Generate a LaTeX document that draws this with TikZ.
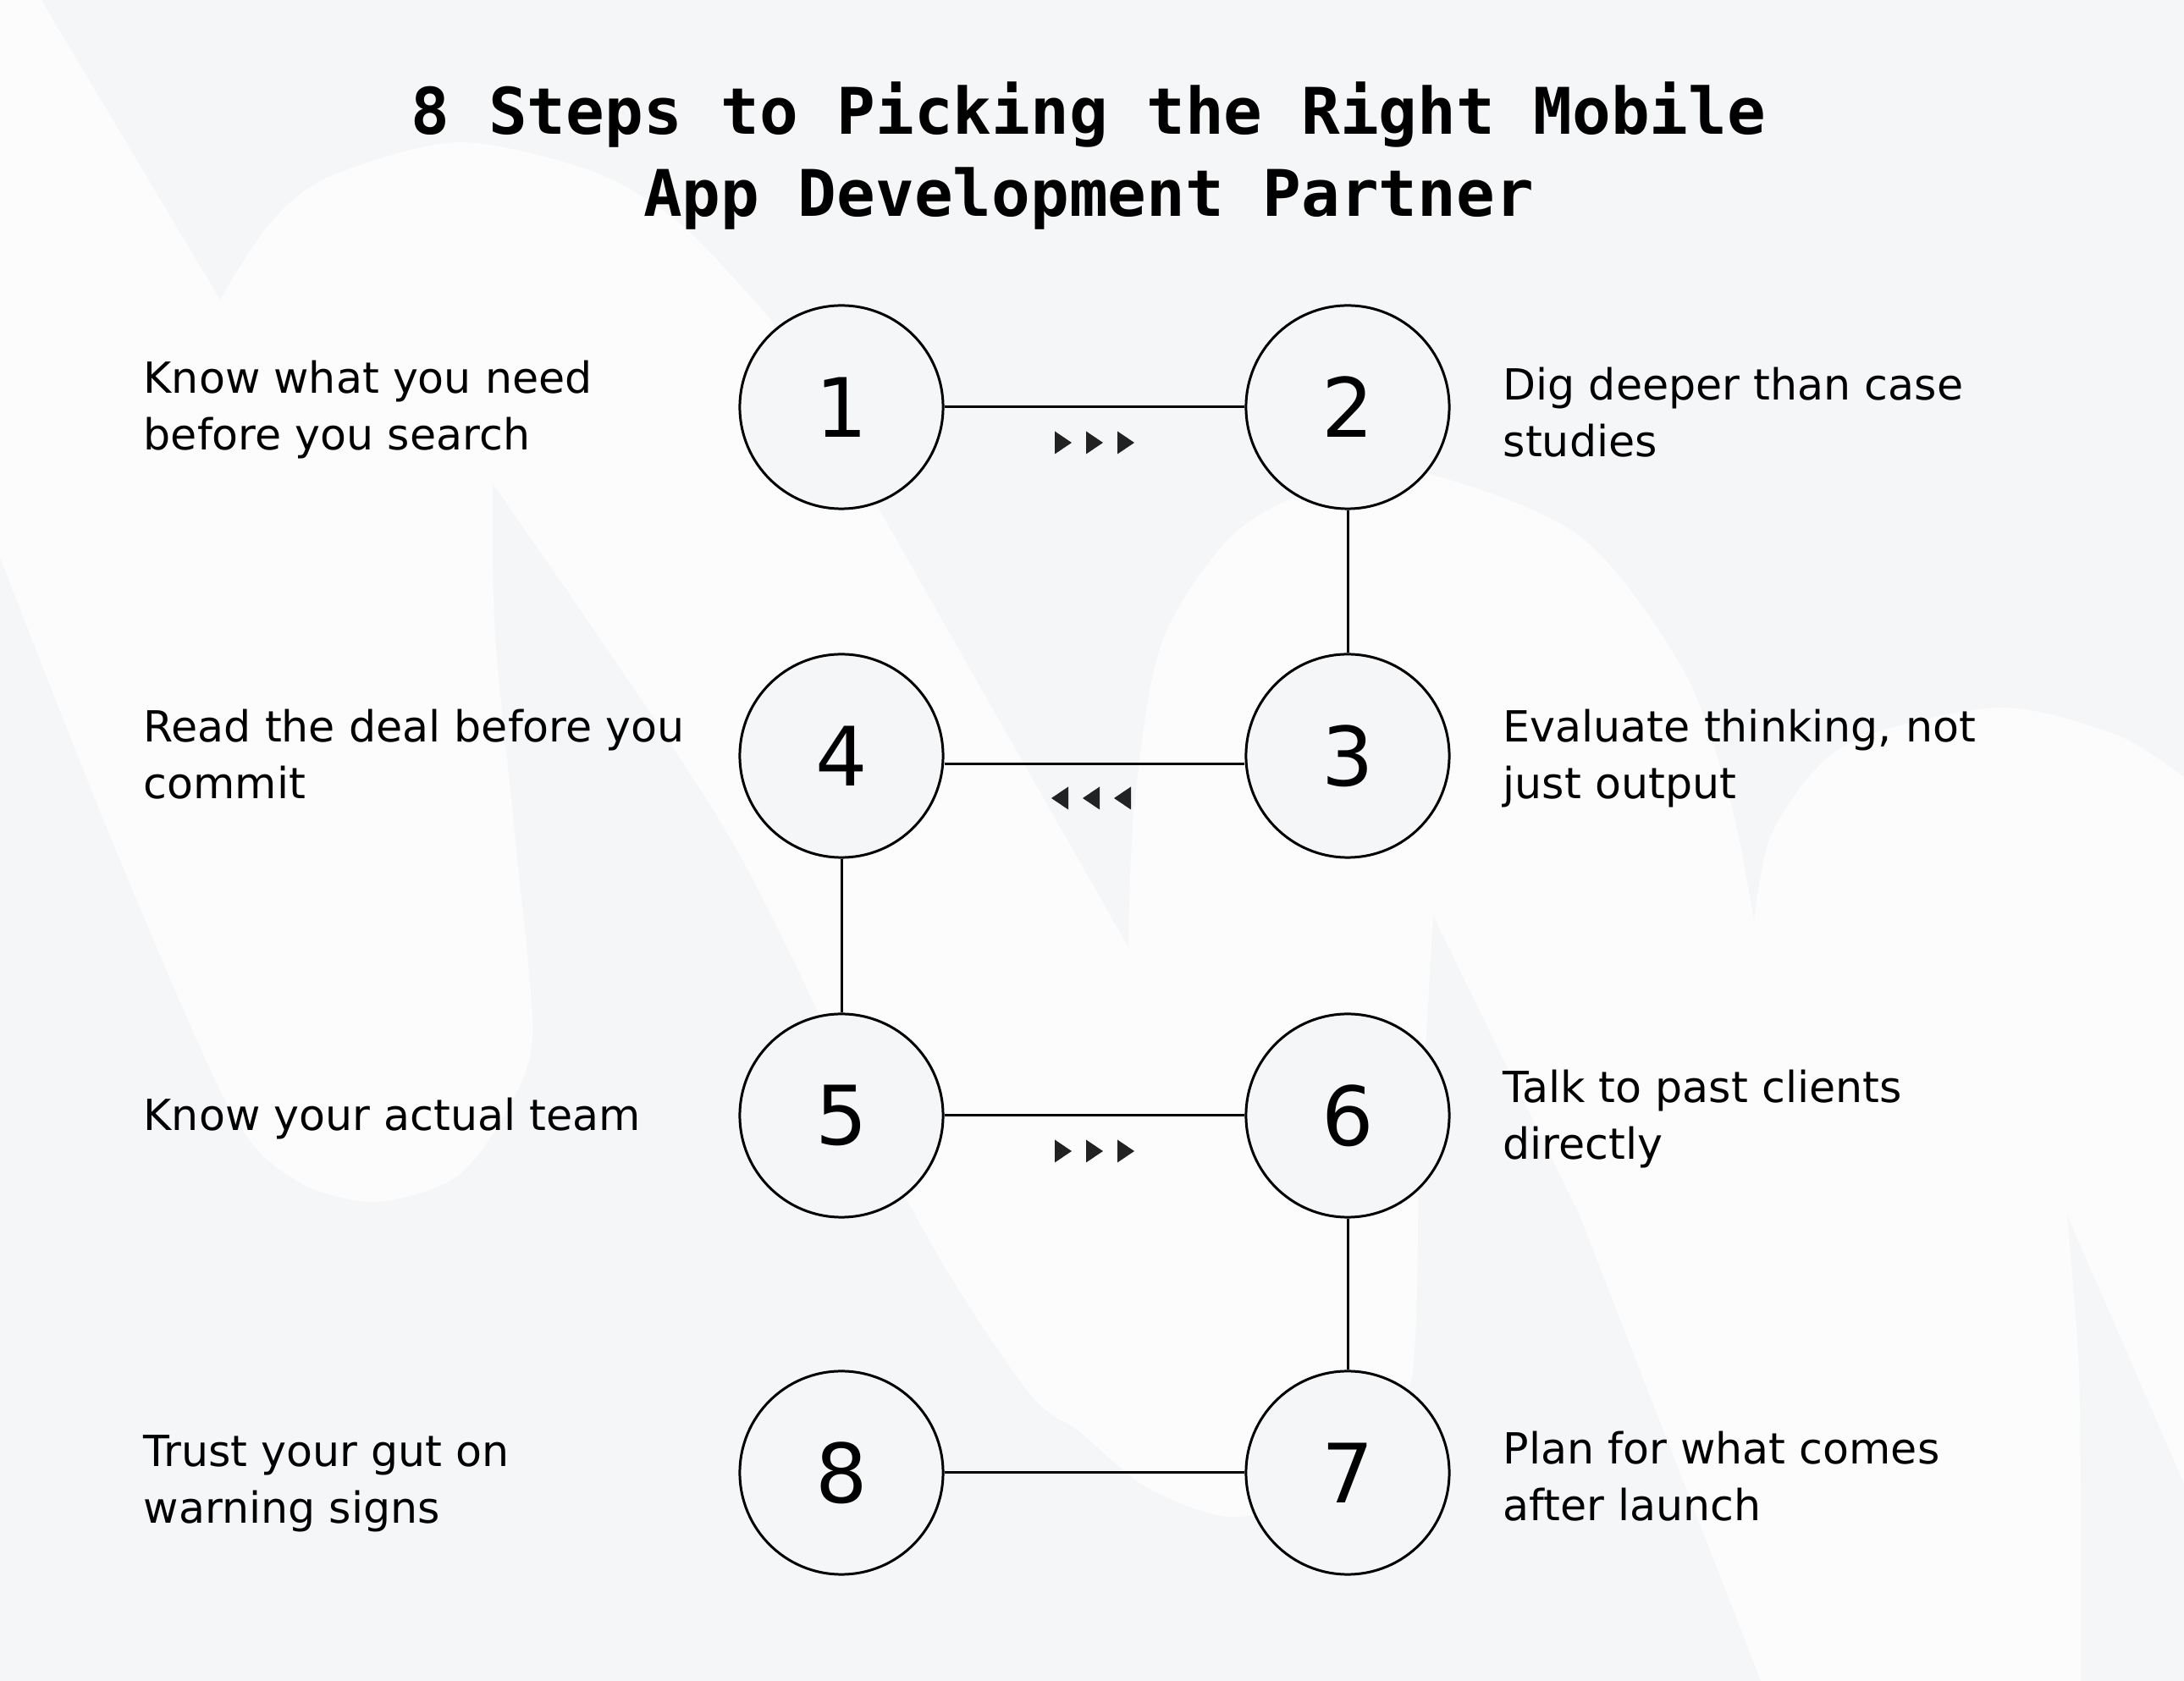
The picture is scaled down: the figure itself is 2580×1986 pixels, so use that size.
\documentclass[tikz,border=0pt]{standalone}
\usepackage{fontspec}
\setmainfont{DejaVu Sans}
\newfontfamily\titlefont{DejaVu Sans Mono}
\usetikzlibrary{calc}
\definecolor{bggrey}{HTML}{F5F6F8}
\definecolor{bgwhite}{HTML}{FCFCFD}
\definecolor{tipgrey}{HTML}{222222}
\tikzset{
  stepnode/.style={circle,draw,line width=0.85pt,fill=bggrey,minimum size=2.4cm,
    inner sep=0pt,font=\fontsize{27.5}{32}\selectfont},
  steptext/.style={anchor=base west,align=left,inner sep=0pt,font=\fontsize{14.4}{19.07}\selectfont},
}
\begin{document}
\begin{tikzpicture}[x=0.01cm,y=-0.01cm,black]
  \useasboundingbox(0,0) rectangle(2580,1986);
  % background and watermark
  \fill[bgwhite](0,0) rectangle(2580,1986);
  \fill[bggrey](49,0)--(260,354)--plot[smooth] coordinates{(260,354)(316,267)(386,210)(540,168)(702,203)(807,267)(912,379)}
    --(1333,1119)--plot[smooth] coordinates{(1333,1119)(1340,950)(1372,760)(1455,633)(1560,575)(1677,558)(1866,633)(1989,792)(2045,950)(2072,1088)}
    --plot[smooth] coordinates{(2072,1088)(2095,980)(2180,880)(2360,836)(2500,868)(2580,918)}
    --(2580,0)--cycle;
  \fill[bggrey](0,659)--plot[smooth] coordinates{(0,659)(132,993)(271,1310)(350,1395)(444,1420)(540,1390)(600,1310)(629,1221)(609,993)(585,750)(582,572)}
    --plot[smooth] coordinates{(582,572)(864,993)(1078,1430)(1211,1640)(1277,1693)(1354,1757)(1452,1792)(1560,1770)(1619,1721)(1668,1626)(1677,1373)(1693,1082)}
    --(1866,1436)--(2080,1986)--(0,1986)--cycle;
  \fill[bggrey](2442,1436)--plot[smooth] coordinates{(2442,1436)(2455,1600)(2458,1753)(2458,1986)}--(2580,1986)--(2580,1753)--cycle;
  % title
  \node[font=\titlefont\bfseries\fontsize{21.6}{27.8}\selectfont,align=center,anchor=base](title) at(1286,256)
    {8 Steps to Picking the Right Mobile\\App Development Partner};
  % steps
  \node[stepnode](n1) at(994,481){1};
  \node[stepnode](n2) at(1592,481){2};
  \node[stepnode](n3) at(1592,893){3};
  \node[stepnode](n4) at(994,893){4};
  \node[stepnode](n5) at(994,1318){5};
  \node[stepnode](n6) at(1592,1318){6};
  \node[stepnode](n7) at(1592,1740){7};
  \node[stepnode](n8) at(994,1740){8};
  \draw[line width=0.85pt](n1)--(n2);
  \draw[line width=0.85pt](n2)--(n3);
  \draw[line width=0.85pt]([yshift=-1mm]n3.west)--([yshift=-1mm]n4.east);
  \draw[line width=0.85pt](n4)--(n5);
  \draw[line width=0.85pt](n5)--(n6);
  \draw[line width=0.85pt](n6)--(n7);
  \draw[line width=0.85pt](n7)--(n8);
  % direction marks
  \coordinate(a12) at($(n1)!.5!(n2)+(0,42)$);
  \coordinate(a34) at($(n4)!.5!(n3)+(-4,50)$);
  \coordinate(a56) at($(n5)!.5!(n6)+(0,42)$);
  \foreach \c/\s in {a12/1,a34/-1,a56/1}
    \foreach \dx in {-37,0,37}
      \fill[tipgrey]($(\c)+(\dx-10*\s,-13.5)$)--($(\c)+(\dx-10*\s,13.5)$)--($(\c)+(\dx+10*\s,0)$)--cycle;
  % labels
  \node[steptext](t1) at(169,532){Know what you need\\before you search};
  \node[steptext](t2) at(1775,540){Dig deeper than case\\studies};
  \node[steptext](t3) at(1775,944){Evaluate thinking, not\\just output};
  \node[steptext](t4) at(169,944){Read the deal before you\\commit};
  \node[steptext](t5) at(169,1336){Know your actual team};
  \node[steptext](t6) at(1775,1370){Talk to past clients\\directly};
  \node[steptext](t7) at(1775,1797){Plan for what comes\\after launch};
  \node[steptext](t8) at(169,1800){Trust your gut on\\warning signs};
\end{tikzpicture}
\end{document}
